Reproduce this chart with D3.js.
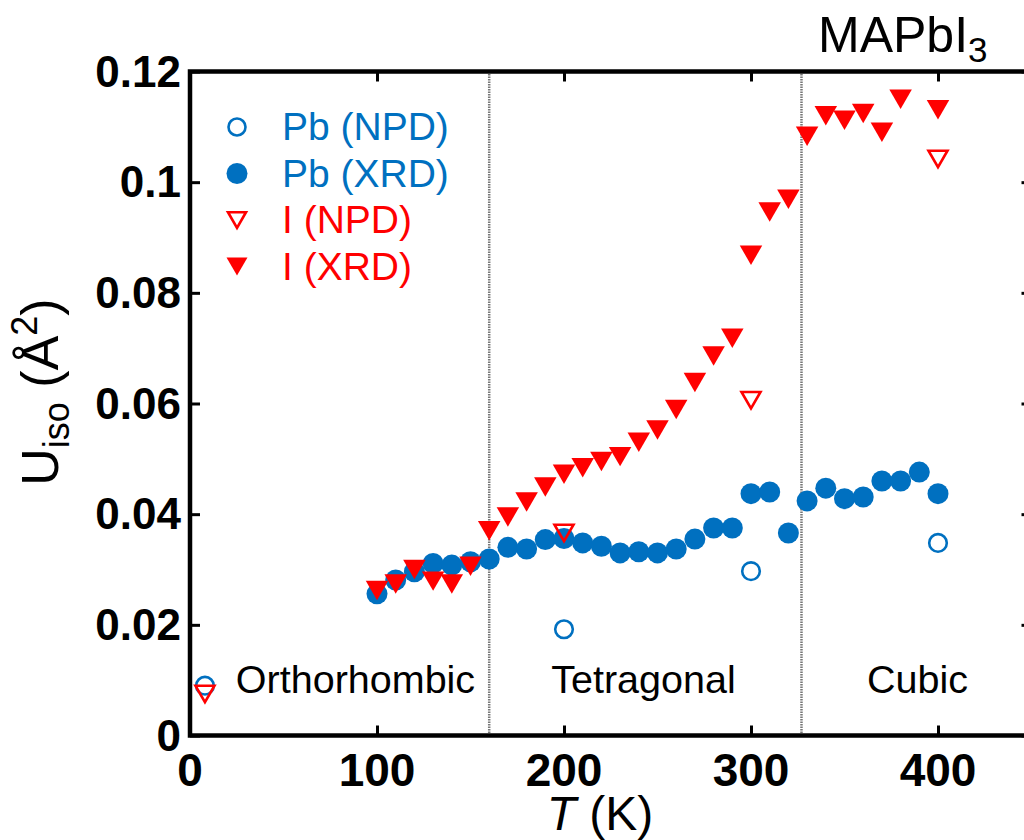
<!DOCTYPE html>
<html lang="en">
<head>
  <meta charset="UTF-8">
  <title>Uiso vs T</title>
  <script src="https://d3js.org/d3.v7.min.js"></script>
  <style>
    body { margin: 0; background: #fff; }
    text { font-family: "Liberation Sans", Arial, sans-serif; }
    .tick-label { font-weight: bold; }
  </style>
</head>
<body>
  <svg width="1024" height="840"></svg>

  <script>
    // Pb, XRD (filled circles)
    const pbXrdT = [100, 110, 120, 130, 140, 150, 160, 170, 180, 190, 200, 210, 220, 230, 240, 250,
                    260, 270, 280, 290, 300, 310, 320, 330, 340, 350, 360, 370, 380, 390, 400];
    const pbXrdU = [0.0256, 0.0281, 0.0296, 0.0311, 0.0308, 0.0314, 0.0319, 0.0340, 0.0337, 0.0354,
                    0.0356, 0.0348, 0.0342, 0.0330, 0.0332, 0.0330, 0.0337, 0.0355, 0.0375, 0.0375,
                    0.0437, 0.0440, 0.0366, 0.0424, 0.0447, 0.0428, 0.0431, 0.0460, 0.0460, 0.0476, 0.0437];

    // Pb, NPD (open circles)
    const pbNpdT = [8, 200, 300, 400];
    const pbNpdU = [0.0090, 0.0192, 0.0297, 0.0348];

    // I, NPD (open triangles)
    const iNpdT = [8, 200, 300, 400];
    const iNpdU = [0.0075, 0.0366, 0.0606, 0.1042];

    // I, XRD (filled triangles)
    const iXrdT = [100, 110, 120, 130, 140, 150, 160, 170, 180, 190, 200, 210, 220, 230, 240, 250,
                   260, 270, 280, 290, 300, 310, 320, 330, 340, 350, 360, 370, 380, 400];
    const iXrdU = [0.0262, 0.0274, 0.0300, 0.0279, 0.0274, 0.0306, 0.0370, 0.0395, 0.0422, 0.0449,
                   0.0472, 0.0484, 0.0495, 0.0504, 0.0530, 0.0552, 0.0589, 0.0638, 0.0686, 0.0718,
                   0.0868, 0.0946, 0.0969, 0.1083, 0.1120, 0.1112, 0.1124, 0.1090, 0.1150, 0.1131];

    // phase boundaries (K) and label centres (K)
    const phaseBounds = [160, 327];
    const phaseNames = ["Orthorhombic", "Tetragonal", "Cubic"];
    const phaseX = [88.5, 242.5, 389];

    const xTicks = [0, 100, 200, 300, 400];
    const yTicks = [0, 0.02, 0.04, 0.06, 0.08, 0.1, 0.12];
    const yTickLabels = ["0", "0.02", "0.04", "0.06", "0.08", "0.1", "0.12"];

    const blue = "#0070c0";
    const red = "#ff0000";

    const svg = d3.select("svg");

    const margin = { top: 71.5, left: 190, bottom: 735.5, right: 1031.5 };

    const x = d3.scaleLinear().domain([0, 450]).range([margin.left, margin.right]);
    const y = d3.scaleLinear().domain([0, 0.12]).range([margin.bottom, margin.top]);

    const zip = (a, b) => a.map((t, i) => ({ t: t, u: b[i] }));

    // downward triangle centred on its bounding box
    function tri(w) {
      const h = w * 0.866;
      return `M${-w / 2},${-h / 2}L${w / 2},${-h / 2}L0,${h / 2}Z`;
    }

    // phase separators
    svg.selectAll(".phase-line")
       .data(phaseBounds)
       .enter().append("line")
       .attr("x1", d => x(d)).attr("x2", d => x(d))
       .attr("y1", margin.top).attr("y2", margin.bottom)
       .attr("stroke", "#777")
       .attr("stroke-width", 2.5)
       .attr("stroke-dasharray", "1.5,1");

    // axes with inward ticks
    const tickLen = 10;
    svg.append("g")
       .attr("transform", `translate(0, ${margin.bottom})`)
       .call(d3.axisBottom(x).tickValues(xTicks).tickSizeInner(-tickLen).tickSizeOuter(0).tickFormat(""))
       .call(g => g.select(".domain").remove());
    svg.append("g")
       .attr("transform", `translate(0, ${margin.top})`)
       .call(d3.axisTop(x).tickValues(xTicks).tickSizeInner(-tickLen).tickSizeOuter(0).tickFormat(""))
       .call(g => g.select(".domain").remove());
    svg.append("g")
       .attr("transform", `translate(${margin.left}, 0)`)
       .call(d3.axisLeft(y).tickValues(yTicks).tickSizeInner(-tickLen).tickSizeOuter(0).tickFormat(""))
       .call(g => g.select(".domain").remove());
    svg.append("g")
       .attr("transform", `translate(${margin.right}, 0)`)
       .call(d3.axisRight(y).tickValues(yTicks).tickSizeInner(-tickLen).tickSizeOuter(0).tickFormat(""))
       .call(g => g.select(".domain").remove());
    svg.selectAll(".tick line").attr("stroke", "#000").attr("stroke-width", 3);

    // frame
    svg.append("rect")
       .attr("x", margin.left).attr("y", margin.top)
       .attr("width", margin.right - margin.left)
       .attr("height", margin.bottom - margin.top)
       .attr("fill", "none")
       .attr("stroke", "#000")
       .attr("stroke-width", 4.5);

    // tick labels
    svg.selectAll(".xlab")
       .data(xTicks)
       .enter().append("text")
       .attr("class", "tick-label")
       .attr("x", d => x(d))
       .attr("y", margin.bottom + 50)
       .attr("text-anchor", "middle")
       .style("font-size", "46px")
       .text(d => d);

    svg.selectAll(".ylab")
       .data(yTicks)
       .enter().append("text")
       .attr("class", "tick-label")
       .attr("x", margin.left - 9)
       .attr("y", d => y(d) + 15)
       .attr("text-anchor", "end")
       .style("font-size", "44px")
       .text((d, i) => yTickLabels[i]);

    // axis titles
    const xt = svg.append("text")
       .attr("x", 600).attr("y", 830)
       .attr("text-anchor", "middle")
       .style("font-size", "48px");
    xt.append("tspan").style("font-style", "italic").text("T");
    xt.append("tspan").text(" (K)");

    const yt = svg.append("text")
       .attr("transform", "rotate(-90)")
       .attr("x", -392).attr("y", 58)
       .attr("text-anchor", "middle")
       .style("font-size", "52px");
    yt.append("tspan").text("U");
    yt.append("tspan").attr("dy", 11).style("font-size", "36px").text("iso");
    yt.append("tspan").attr("dy", -11).text(" (Å");
    yt.append("tspan").attr("dy", -21).style("font-size", "36px").text("2");
    yt.append("tspan").attr("dy", 21).text(")");

    // compound label
    const title = svg.append("text")
       .attr("x", 818).attr("y", 52)
       .style("font-size", "50px");
    title.append("tspan").text("MAPbI");
    title.append("tspan").attr("dy", 10).style("font-size", "35px").text("3");

    // phase labels
    svg.selectAll(".phase-label")
       .data(phaseNames)
       .enter().append("text")
       .attr("x", (d, i) => x(phaseX[i]))
       .attr("y", 693)
       .attr("text-anchor", "middle")
       .style("font-size", "39.5px")
       .text(d => d);

    // data marks
    svg.selectAll(".pb-npd")
       .data(zip(pbNpdT, pbNpdU))
       .enter().append("circle")
       .attr("cx", d => x(d.t)).attr("cy", d => y(d.u))
       .attr("r", 8.8)
       .attr("fill", "none")
       .attr("stroke", blue)
       .attr("stroke-width", 2.6);

    svg.selectAll(".pb-xrd")
       .data(zip(pbXrdT, pbXrdU))
       .enter().append("circle")
       .attr("cx", d => x(d.t)).attr("cy", d => y(d.u))
       .attr("r", 10.5)
       .attr("fill", blue);

    svg.selectAll(".i-npd")
       .data(zip(iNpdT, iNpdU))
       .enter().append("path")
       .attr("transform", d => `translate(${x(d.t)}, ${y(d.u)})`)
       .attr("d", tri(19))
       .attr("fill", "none")
       .attr("stroke", red)
       .attr("stroke-width", 2.6)
       .attr("stroke-linejoin", "miter");

    svg.selectAll(".i-xrd")
       .data(zip(iXrdT, iXrdU))
       .enter().append("path")
       .attr("transform", d => `translate(${x(d.t)}, ${y(d.u)})`)
       .attr("d", tri(22.5))
       .attr("fill", red);

    // legend
    const legend = [
      { name: "Pb (NPD)", color: blue, kind: "openCircle" },
      { name: "Pb (XRD)", color: blue, kind: "circle" },
      { name: "I (NPD)", color: red, kind: "openTri" },
      { name: "I (XRD)", color: red, kind: "tri" }
    ];
    const lg = svg.selectAll(".leg")
       .data(legend)
       .enter().append("g")
       .attr("transform", (d, i) => `translate(237, ${127 + i * 46.5})`);
    lg.each(function(d) {
      const g = d3.select(this);
      if (d.kind === "openCircle") {
        g.append("circle").attr("r", 8.5).attr("fill", "none").attr("stroke", d.color).attr("stroke-width", 2.6);
      } else if (d.kind === "circle") {
        g.append("circle").attr("r", 10.5).attr("fill", d.color);
      } else if (d.kind === "openTri") {
        g.append("path").attr("d", tri(18)).attr("fill", "none").attr("stroke", d.color).attr("stroke-width", 2.6);
      } else {
        g.append("path").attr("d", tri(21)).attr("fill", d.color);
      }
    });
    lg.append("text")
       .attr("x", 45)
       .attr("y", 13)
       .attr("fill", d => d.color)
       .style("font-size", "39px")
       .text(d => d.name);
  </script>
</body>
</html>
